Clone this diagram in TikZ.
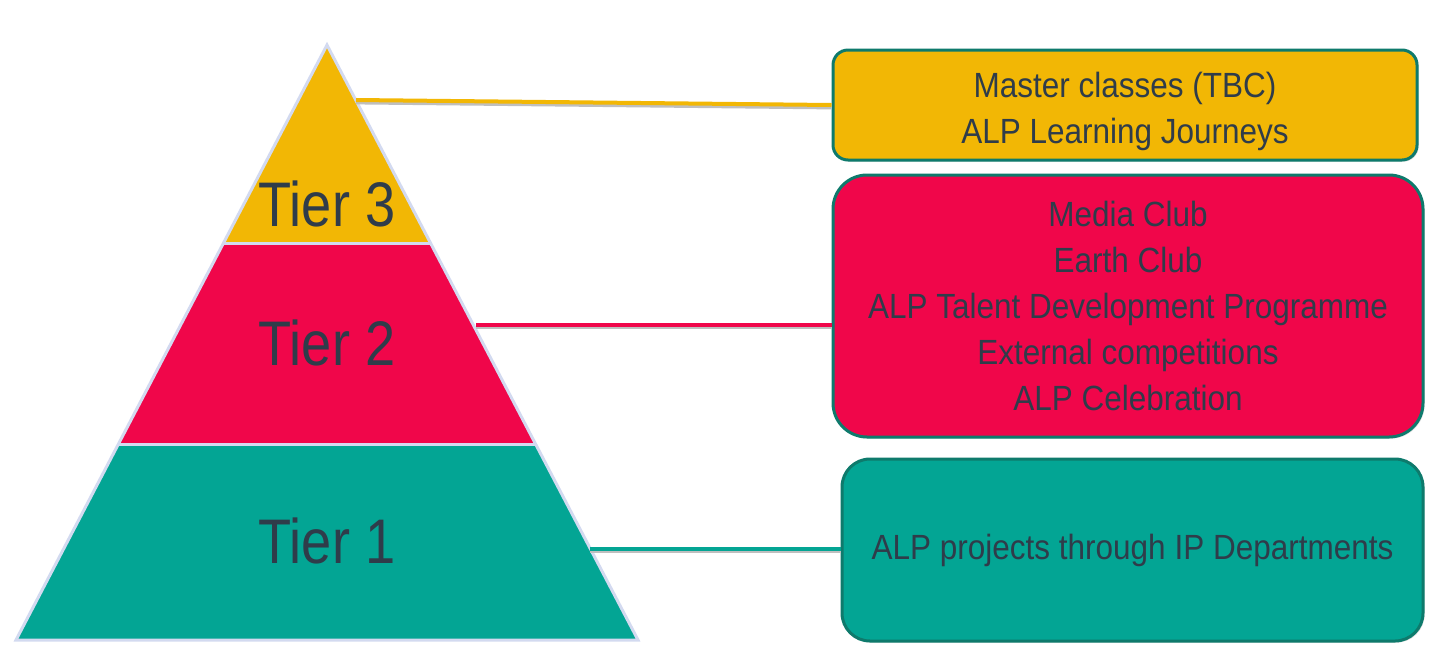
\documentclass[tikz,border=0pt]{standalone}
\usepackage{fontspec}
\setmainfont[FakeStretch=0.9]{Liberation Sans}
\newfontfamily\tierfont[FakeStretch=0.86]{Liberation Sans}
\usetikzlibrary{positioning, shadows}
\definecolor{tieryellow}{HTML}{F2B705}
\definecolor{tierred}{HTML}{F0064A}
\definecolor{tierteal}{HTML}{03A594}
\definecolor{boxline}{HTML}{0E7A6C}
\definecolor{edgeline}{HTML}{D3DAF0}
\definecolor{labeltext}{HTML}{2F3C4A}

\begin{document}
\begin{tikzpicture}[
        x=0.5pt, y=-0.5pt,
        band/.style={
            draw=edgeline,
            line width=1.5pt,
            line join=miter
        },
        tierlabel/.style={
            font=\tierfont\fontsize{31.5pt}{36pt}\selectfont,
            text=labeltext,
            anchor=base
        },
        tierbox/.style={
            rectangle,
            draw=boxline,
            line width=1.5pt,
            inner sep=0pt,
            align=center,
            text=labeltext,
            font=\fontsize{17.5pt}{23pt}\selectfont,
            drop shadow={shadow xshift=0.8pt, shadow yshift=-0.8pt, opacity=0.25}
        },
        link/.style={
            line width=2pt,
            preaction={draw=black!25, line width=2pt, transform canvas={yshift=-1.2pt}}
        }
    ]
    \useasboundingbox (0,0) rectangle (1455,670);

    % Pyramid
    \coordinate (apex) at (327,45);
    \coordinate (l3) at (223,243);
    \coordinate (r3) at (431,243);
    \coordinate (l2) at (118,444);
    \coordinate (r2) at (536,444);
    \coordinate (l1) at (16,640);
    \coordinate (r1) at (638,640);
    \fill[tierteal] (l2) -- (r2) -- (r1) -- (l1) -- cycle;
    \fill[tierred] (l3) -- (r3) -- (r2) -- (l2) -- cycle;
    \fill[tieryellow] (apex) -- (r3) -- (l3) -- cycle;
    \draw[band] (apex) -- (r1) -- (l1) -- cycle;
    \draw[band] (l3) -- (r3);
    \draw[band] (l2) -- (r2);

    \node[tierlabel] (tier3) at (327,226) {Tier 3};
    \node[tierlabel] (tier2) at (327,365) {Tier 2};
    \node[tierlabel] (tier1) at (327,563) {Tier 1};

    % Boxes
    \node[tierbox, fill=tieryellow, minimum width=292pt, minimum height=55pt, rounded corners=7.5pt, text height=42pt] (box3) at (1125,105)
        {Master classes (TBC)\\ALP Learning Journeys};
    \node[tierbox, fill=tierred, minimum width=295pt, minimum height=131pt, rounded corners=17pt, below=6pt of box3, xshift=1.5pt] (box2)
        {Media Club\\Earth Club\\ALP Talent Development Programme\\External competitions\\ALP Celebration};
    \node[tierbox, fill=tierteal, minimum width=290.5pt, minimum height=91pt, rounded corners=14pt, below=9.5pt of box2, xshift=2.25pt] (box1)
        {ALP projects through IP Departments};

    % Links
    \coordinate (c3) at (356,100);
    \coordinate (c2) at (476,325);
    \coordinate (c1) at (590,549);
    \draw[link, tieryellow] (c3) -- (box3.west);
    \draw[link, tierred] (c2) -- (c2 -| box2.west);
    \draw[link, tierteal] (c1) -- (c1 -| box1.west);
\end{tikzpicture}
\end{document}
